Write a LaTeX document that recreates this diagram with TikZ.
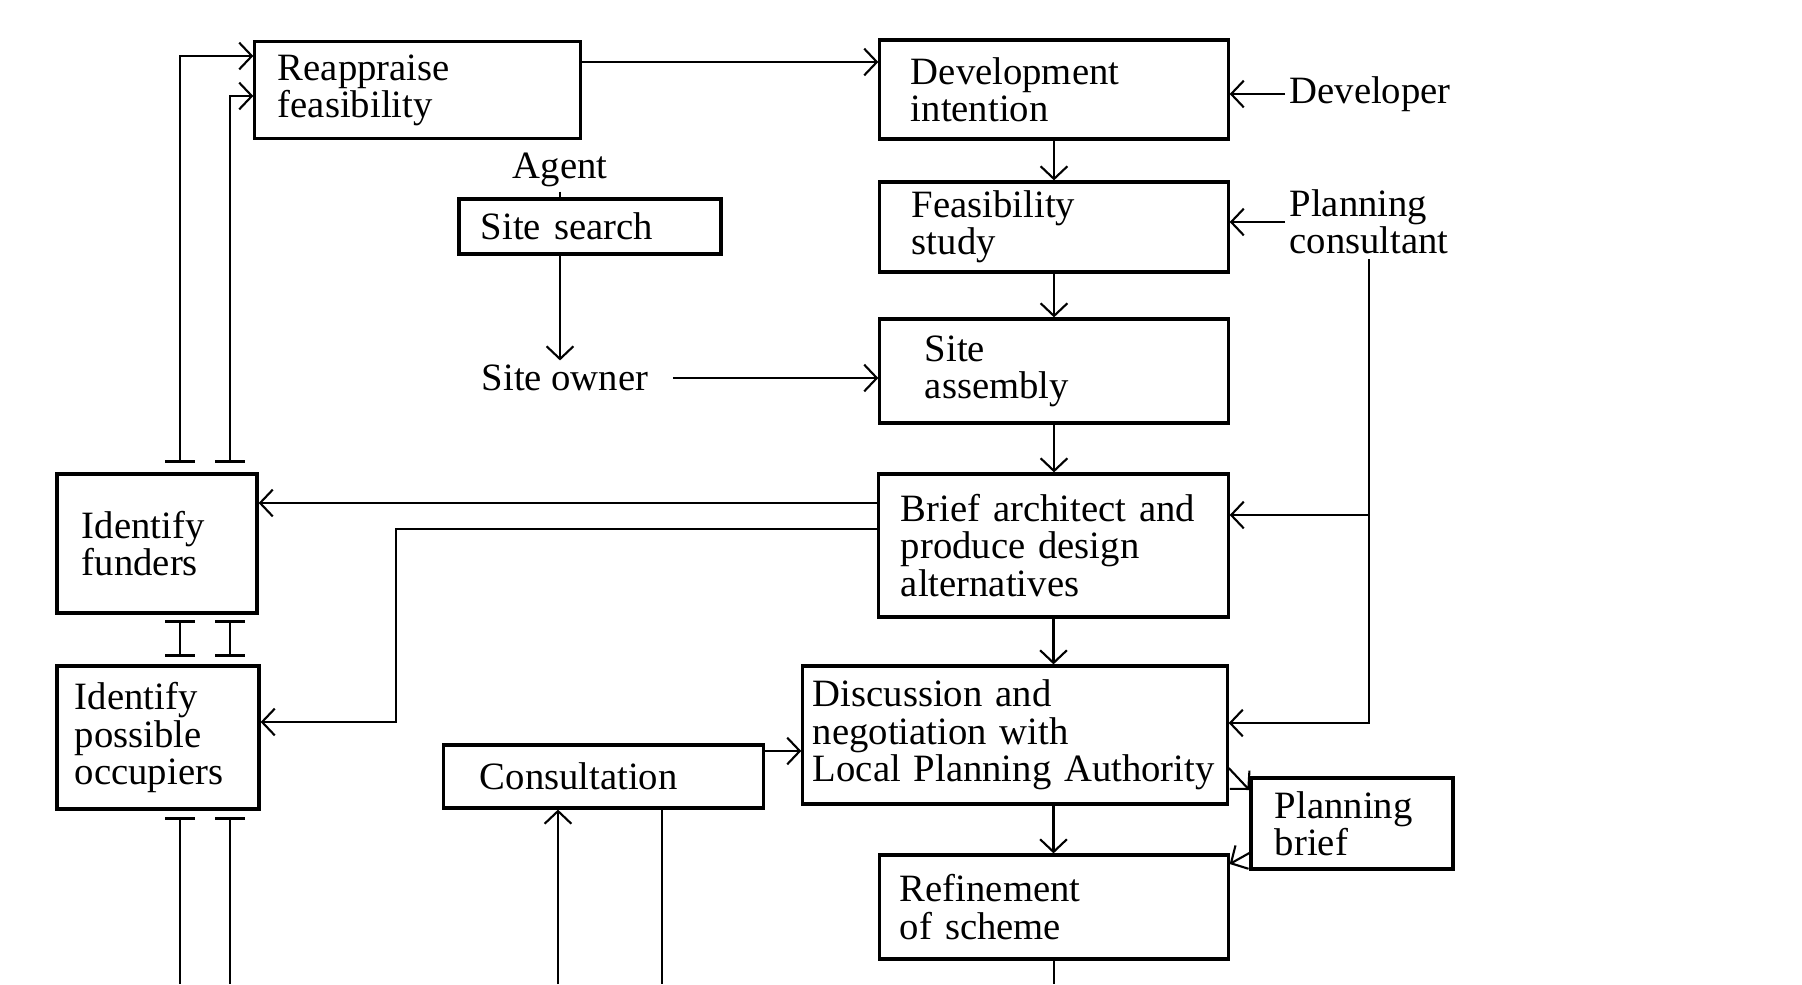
\documentclass[tikz,border=0pt]{standalone}
\usepackage{fontspec}
\setmainfont{Liberation Serif}
\usetikzlibrary{arrows.meta}

\tikzset{
  box/.style={draw, line width=0.9pt, align=left, inner ysep=0pt},
  lbl/.style={inner sep=1pt, align=left},
  tee/.tip={Bar[width=8.5pt, line width=0.8pt]},
  >={Straight Barb[length=3.6pt, width=7.6pt]},
}

\begin{document}
\begin{tikzpicture}[x=0.01cm, y=-0.01cm, line width=0.6pt, font=\fontsize{11}{10.6}\selectfont]
				\useasboundingbox (0,0) rectangle (1802,984);
				% boxes
				\node[box, text width=2.79cm, inner xsep=0.23cm, minimum height=0.97cm] (reapp) at (417.5,90) {Reappraise\\feasibility};
				\node[box, text width=2.86cm, inner xsep=0.31cm, minimum height=0.99cm] (devint) at (1054,89.5) {Development\\intention};
				\node[box, text width=2.84cm, inner xsep=0.32cm, minimum height=0.90cm] (feas) at (1054,227) {Feasibility\\study};
				\node[box, text width=2.18cm, inner xsep=0.22cm, minimum height=0.55cm] (search) at (590,226.5) {Site search};
				\node[box, text width=2.58cm, inner xsep=0.45cm, minimum height=1.04cm] (assembly) at (1054,371) {Site\\assembly};
				\node[box, text width=3.05cm, inner xsep=0.22cm, minimum height=1.43cm] (brief) at (1053.5,545.5) {Brief architect and\\produce design\\alternatives};
				\node[box, text width=1.50cm, inner xsep=0.25cm, minimum height=1.39cm] (funders) at (157,543.5) {Identify\\funders};
				\node[box, text width=1.66cm, inner xsep=0.18cm, minimum height=1.43cm] (occup) at (158,737.5) {Identify\\possible\\occupiers};
				\node[box, text width=2.47cm, inner xsep=0.36cm, minimum height=0.63cm] (consult) at (603.5,776.5) {Consultation};
				\node[box, text width=4.04cm, inner xsep=0.10cm, minimum height=1.38cm] (discuss) at (1015,735) {Discussion and\\negotiation with\\\mbox{Local Planning Authority}};
				\node[box, text width=1.54cm, inner xsep=0.24cm, minimum height=0.91cm] (pbrief) at (1352,823.5) {Planning\\brief};
				\node[box, text width=3.08cm, inner xsep=0.20cm, minimum height=1.04cm] (refine) at (1054,907) {Refinement\\of scheme};
				% actors
				\node[lbl, anchor=west] (dev) at (1285,94) {Developer};
				\node[lbl, anchor=west] (pcons) at (1285,222) {Planning\\consultant};
				\node[lbl] (agent) at (560,170) {Agent};
				\node[lbl] (owner) at (565,378) {Site owner};
				% main chain
				\draw[->] (reapp.east |- 0,62) -- (devint.west |- 0,62);
				\draw[->] (devint) -- (feas);
				\draw[->] (feas) -- (assembly);
				\draw[->] (assembly.south) -- (assembly.south |- brief.north);
				\draw[->] (brief.south) -- (brief.south |- discuss.north);
				\draw[->] (brief.south |- discuss.south) -- (brief.south |- refine.north);
				\draw (refine.south) -- (refine.south |- 0,984);
				\draw[->] (dev.west) -- (devint.east |- dev.west);
				\draw[->] (pcons.west) -- (feas.east |- pcons.west);
				\draw[->] (pcons.south) |- (discuss.east |- 0,723);
				\draw[->] (pcons.south |- 0,515) -- (brief.east |- 0,515);
				% site search
				\draw (agent.south) -- (agent.south |- search.north);
				\draw[->] (agent.south |- search.south) -- (agent.south |- owner.north);
				\draw[->] ([xshift=2mm]owner.east) -- (assembly.west |- owner.east);
				% funders and occupiers
				\draw[->] (brief.west |- 0,503) -- (funders.east |- 0,503);
				\draw[->] (brief.west |- 0,529) -| (396,722) -- (occup.east |- 0,722);
				\coordinate (fa) at (180,463);
				\coordinate (fb) at (230,463);
				\draw[tee->] (fa) |- (reapp.west |- 0,56);
				\draw[tee->] (fb) |- (reapp.west |- 0,96);
				\draw[tee-tee] (180,620) -- (180,657);
				\draw[tee-tee] (230,620) -- (230,657);
				\draw[tee-] (180,817) -- (180,984);
				\draw[tee-] (230,817) -- (230,984);
				% consultation
				\draw[->] (558,984) -- (consult.south -| 558,0);
				\draw (consult.south -| 662,0) -- (662,984);
				\draw[->] (consult.east |- 0,751) -- (discuss.west |- 0,751);
				% planning brief
				\draw[->] (discuss.east |- 0,768) -- (pbrief.west |- 0,790);
				\draw[->] (pbrief.west |- 0,853) -- (refine.east |- 0,864);
\end{tikzpicture}
\end{document}
